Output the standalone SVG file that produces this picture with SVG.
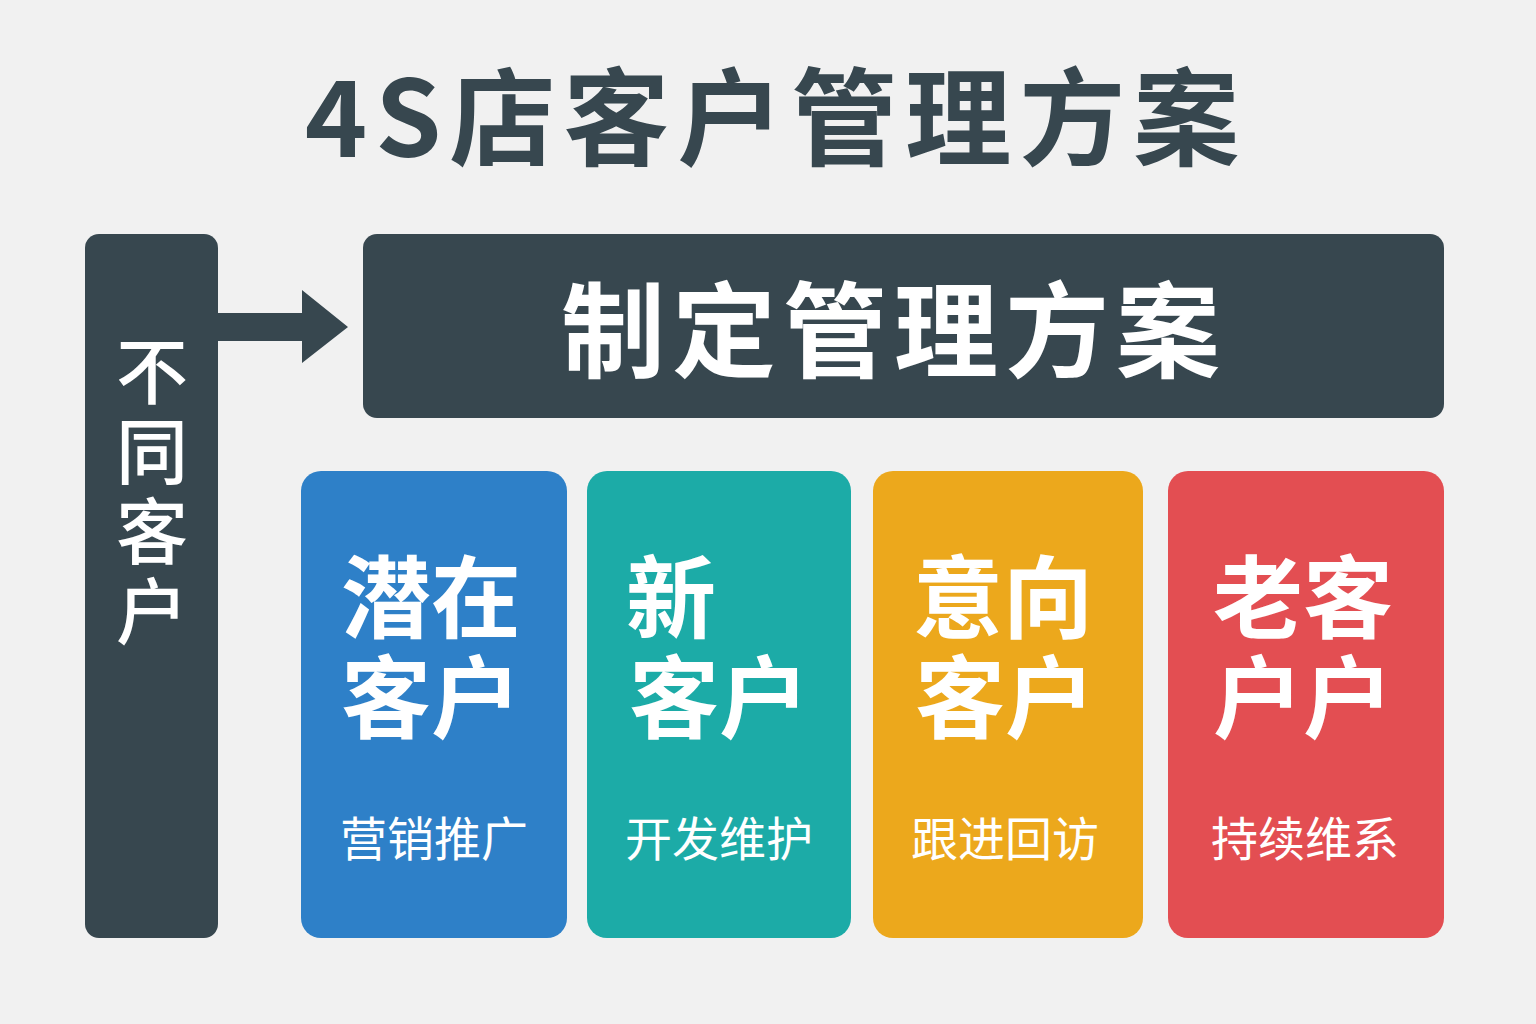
<svg xmlns="http://www.w3.org/2000/svg" width="1536" height="1024" viewBox="0 0 1536 1024">
<style>
.cjk{font-family:"Noto Sans CJK SC","Noto Sans",sans-serif;fill:#ffffff}
.big{font-size:90px;font-weight:700}
.sub{font-size:47px;font-weight:400;text-anchor:middle}
.vert{font-size:72px;font-weight:500;text-anchor:middle}
.dark{fill:#37474f}
</style>
<rect width="1536" height="1024" fill="#f1f1f1"/>
<text x="776" y="157" class="cjk" style="fill:#37474f;font-size:106px;font-weight:700;letter-spacing:8px" text-anchor="middle">4S店客户管理方案</text>
<g id="left">
<rect x="85" y="234" width="133" height="704" rx="14" class="dark"/>
<text x="152" y="398" class="cjk vert">不</text>
<text x="152" y="478" class="cjk vert">同</text>
<text x="152" y="558" class="cjk vert">客</text>
<text x="152" y="638" class="cjk vert">户</text>
</g>
<g id="connectors">
<path d="M218 313 H302 V290 L348 327 L302 363 V341 H218 Z" class="dark"/>
</g>
<g id="plan">
<rect x="363" y="234" width="1081" height="184" rx="14" class="dark"/>
<text x="894" y="370" class="cjk" style="font-size:104px;font-weight:700;letter-spacing:7px" text-anchor="middle">制定管理方案</text>
</g>
<g id="c1">
<rect x="301" y="471" width="266" height="467" rx="20" fill="#2e80c8"/>
<text x="341" y="631" class="cjk big">潜在</text>
<text x="341" y="731" class="cjk big">客户</text>
<text x="434" y="856" class="cjk sub">营销推广</text>
</g>
<g id="c2">
<rect x="587" y="471" width="264" height="467" rx="20" fill="#1caba7"/>
<text x="626" y="631" class="cjk big">新</text>
<text x="629" y="731" class="cjk big">客户</text>
<text x="719" y="856" class="cjk sub">开发维护</text>
</g>
<g id="c3">
<rect x="873" y="471" width="270" height="467" rx="20" fill="#eca81c"/>
<text x="913" y="631" class="cjk big">意向</text>
<text x="915" y="731" class="cjk big">客户</text>
<text x="1005" y="856" class="cjk sub">跟进回访</text>
</g>
<g id="c4">
<rect x="1168" y="471" width="276" height="467" rx="20" fill="#e34e52"/>
<text x="1213" y="631" class="cjk big">老客</text>
<text x="1213" y="731" class="cjk big">户户</text>
<text x="1305" y="856" class="cjk sub">持续维系</text>
</g>
</svg>
